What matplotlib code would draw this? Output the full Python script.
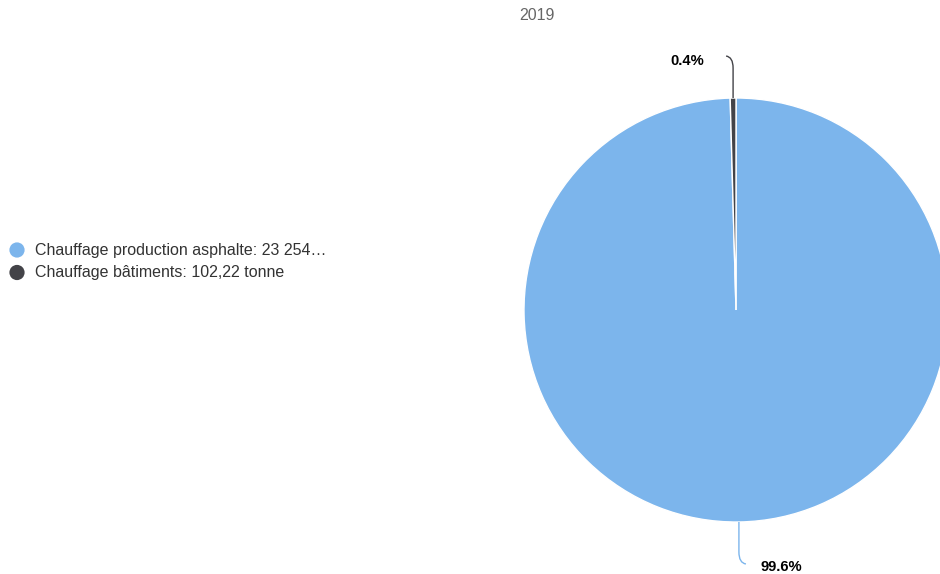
import numpy as np
import matplotlib
matplotlib.use("Agg")
import matplotlib.pyplot as plt
from matplotlib.path import Path
from matplotlib.patches import PathPatch

plt.rcParams['font.family'] = ['Liberation Sans', 'DejaVu Sans']

# ---- data ----
title = "2019"
categories = ["Chauffage production asphalte", "Chauffage bâtiments"]
values = [23254.0, 102.22]
legend_labels = ["Chauffage production asphalte: 23 254…",
                 "Chauffage bâtiments: 102,22 tonne"]
colors = ["#7cb5ec", "#434348"]

W, H = 940, 574
fig = plt.figure(figsize=(W / 100, H / 100), dpi=100)
ax = fig.add_axes([0, 0, 1, 1])

cx, cy, r = 736, H - 310, 212
wedges, _ = ax.pie(values, colors=colors, startangle=90, counterclock=False,
                   center=(cx, cy), radius=r, frame=True,
                   wedgeprops=dict(edgecolor='white', linewidth=1.0))
ax.set_xlim(0, W)
ax.set_ylim(0, H)
ax.set_aspect('equal')
ax.axis('off')

total = sum(values)
for w, v, col in zip(wedges, values, colors):
    ang = np.deg2rad((w.theta1 + w.theta2) / 2)
    ex, ey = cx + r * np.cos(ang), cy + r * np.sin(ang)
    up = 1 if np.sin(ang) > 0 else -1
    side = -1 if np.cos(ang) < 0 else 1
    p1 = (ex, ey + up * 41)
    p2 = (ex + side * 7, ey + up * 42)
    path = Path([(ex, ey), (ex, ey + up * 30), p1, p2],
                [Path.MOVETO, Path.LINETO, Path.CURVE3, Path.CURVE3])
    ax.add_patch(PathPatch(path, fill=False, edgecolor=col, linewidth=1.0))
    pct = f"{v / total * 100:.1f}%"
    gap = 22 if side < 0 else 15
    dy = 5 if up > 0 else 3
    ax.text(p2[0] + side * gap, p2[1] - dy, pct, ha='left' if side > 0 else 'right',
            va='center', fontsize=10.6, fontweight='bold', color='#000000')

# title
ax.text(537, H - 15, title, ha='center', va='center', fontsize=11.5, color='#666666')

# legend
for i, (lab, col) in enumerate(zip(legend_labels, colors)):
    y = H - (250 + i * 22.5)
    ax.scatter([17], [y], s=120, color=col, edgecolors='none')
    ax.text(35, y, lab, ha='left', va='center', fontsize=11.5, color='#333333')

fig.savefig("out.png", dpi=100)
